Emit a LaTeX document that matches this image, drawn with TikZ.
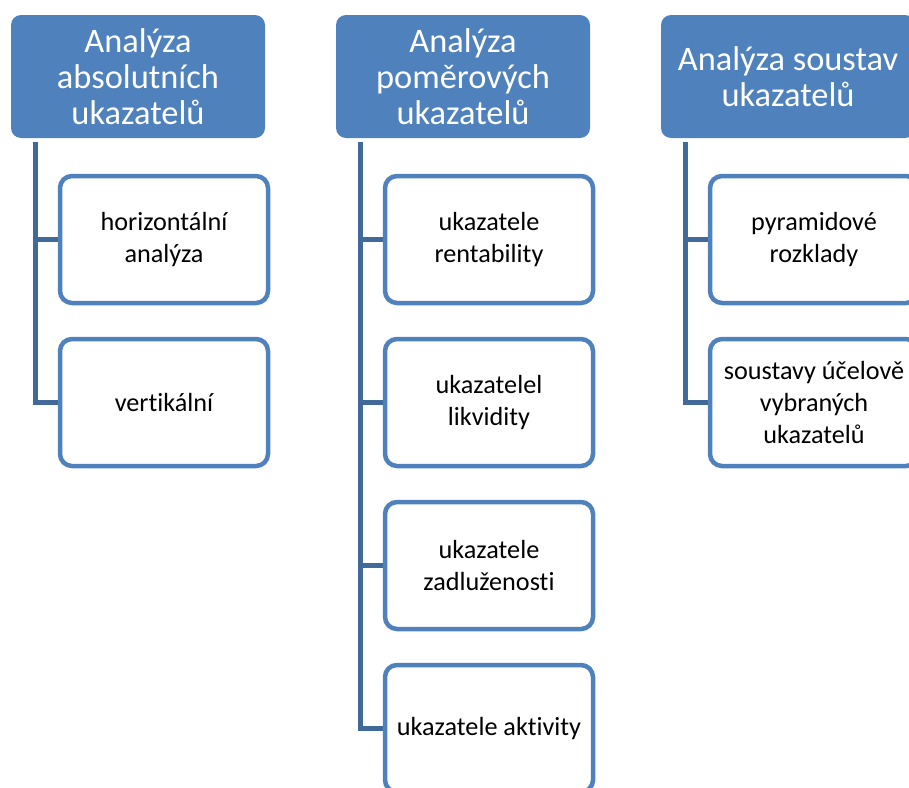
\documentclass[tikz,border=0pt]{standalone}
\usepackage{fontspec}
\setmainfont{Carlito}[Ligatures=NoCommon]
\usetikzlibrary{backgrounds}
\definecolor{accent}{HTML}{4F81BD}
\definecolor{linkblue}{HTML}{41699A}
\begin{document}
\begin{tikzpicture}[x=1pt,y=-1pt,
  head/.style={fill=accent, draw=none, rounded corners=10pt,
    minimum width=254pt, minimum height=123pt, text=white, align=center,
    font=\fontsize{34.4}{36}\selectfont, inner sep=0pt},
  item/.style={draw=accent, fill=white, line width=4.5pt, rounded corners=12pt,
    minimum width=208pt, minimum height=127pt, align=center,
    font=\fontsize{26.2}{32}\selectfont, inner sep=0pt},
  link/.style={draw=linkblue, line width=5pt}]
\useasboundingbox (0,0) rectangle (909,787);
\clip (0,0) rectangle (909,787);

% column headers
\node[head] (h1) at (138,76.5) {Analýza\\absolutních\\ukazatelů};
\node[head] (h2) at (463,76.5) {Analýza\\poměrových\\ukazatelů};
\node[head] (h3) at (788,76.5) {Analýza soustav\\ukazatelů};

% column 1
\node[item] (a1) at (164,239.5) {horizontální\\analýza};
\node[item] (a2) at (164,402.5) {vertikální};

% column 2
\node[item] (b1) at (489,239.5) {ukazatele\\rentability};
\node[item] (b2) at (489,402.5) {ukazatelel\\likvidity};
\node[item] (b3) at (489,565.5) {ukazatele\\zadluženosti};
\node[item] (b4) at (489,728.5) {ukazatele aktivity};

% column 3
\node[item] (c1) at (814,239.5) {pyramidové\\rozklady};
\node[item] (c2) at (814,402.5) {soustavy účelově\\vybraných\\ukazatelů};

% trunk lines with branches
\coordinate (t1) at (35,142);
\coordinate (t2) at (360,142);
\coordinate (t3) at (685,142);
\begin{scope}[on background layer]
  \draw[link] (t1) |- (a1.west);
  \draw[link] (t1) |- (a2.west);
  \draw[link] (t2) |- (b1.west);
  \draw[link] (t2) |- (b2.west);
  \draw[link] (t2) |- (b3.west);
  \draw[link] (t2) |- (b4.west);
  \draw[link] (t3) |- (c1.west);
  \draw[link] (t3) |- (c2.west);
\end{scope}
\end{tikzpicture}
\end{document}
